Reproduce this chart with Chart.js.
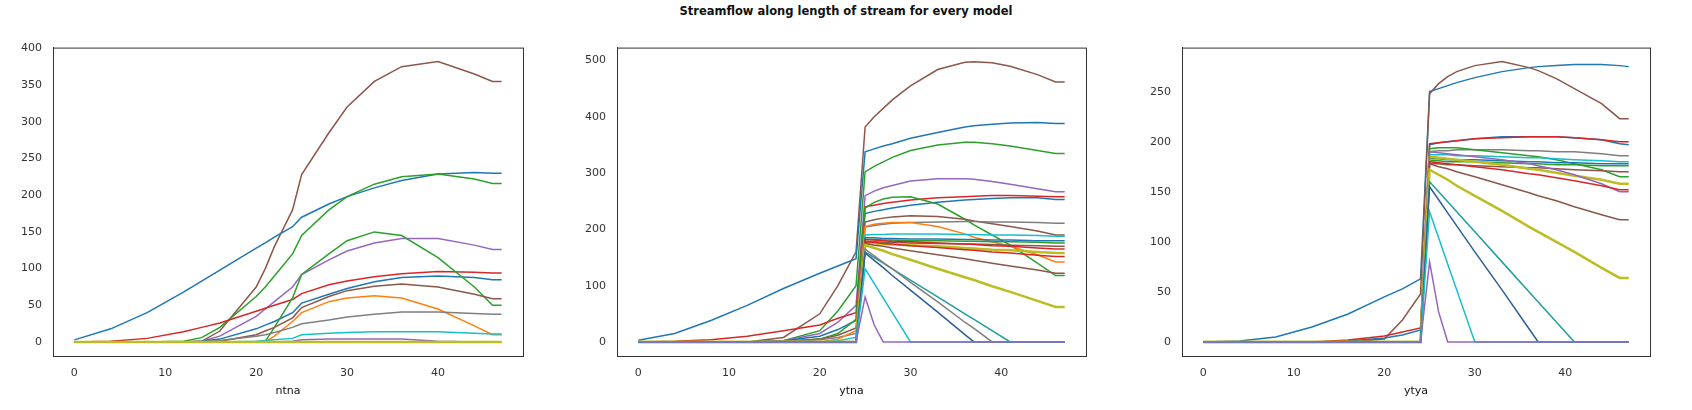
<!DOCTYPE html>
<html>
<head>
<meta charset="utf-8">
<script src="https://cdn.jsdelivr.net/npm/chart.js@4/dist/chart.umd.min.js"></script>
<style>
	body { margin: 0; width: 1692px; height: 410px; background: #fff; font-family: "DejaVu Sans", sans-serif; overflow: hidden; }
	#title { position: absolute; top: 4px; left: 0; width: 1692px; text-align: center; font-size: 11.5px; font-weight: bold; color: #111; }
	.box { position: absolute; top: 38px; height: 360px; }
</style>
</head>
<body>
<div id="title">Streamflow along length of stream for every model</div>
<div class="box" style="left:5px;width:520px"><canvas id="c1"></canvas></div>
<div class="box" style="left:569px;width:519px"><canvas id="c2"></canvas></div>
<div class="box" style="left:1134px;width:518px"><canvas id="c3"></canvas></div>
<script>
const C = {
	blue: '#1f77b4', orange: '#ff7f0e', green: '#2ca02c', red: '#d62728', purple: '#9467bd',
	brown: '#8c564b', gray: '#7f7f7f', olive: '#bcbd22', cyan: '#17becf', navy: '#2f5d95', teal: '#1f9e9e'
};

// ---- ntna ----
const x1 = [0, 4, 8, 12, 14, 16, 20, 21, 22, 24, 25, 28, 30, 33, 36, 40, 44, 46, 47];
const ntna = [
	['olive', [0,0,0,0,0,0,0,0,0,0,0,0,0,0,0,0,0,0,0], 2.5],
	['purple', [0,0,0,0,0,0,0,0,0,1,3,4,4,4,4,1,0,0,0]],
	['cyan', [0,0,0,0,0,0,1,2,3,5,10,12,13,14,14,14,12,11,11]],
	['gray', [0,0,0,0,0,2,8,10,13,20,25,30,34,38,41,41,39,38,38]],
	['orange', [0,0,0,0,0,0,0,0,8,28,40,55,60,63,60,45,22,10,10]],
	['brown', [0,0,0,0,0,1,10,15,20,33,47,62,70,76,79,75,65,59,59]],
	['green', [0,0,0,0,0,0,0,1,20,60,92,120,138,150,145,115,75,50,50]],
	['blue', [0,0,0,0,1,4,18,23,28,40,53,65,73,82,88,90,88,85,85]],
	['red', [0,1,5,14,20,26,42,46,50,58,66,78,83,89,93,96,95,94,94]],
	['purple', [0,0,0,0,1,8,35,45,55,75,92,112,124,135,141,141,132,126,126]],
	['green', [0,0,0,1,6,20,62,75,90,120,145,180,198,215,225,229,222,216,216]],
	['blue', [3,18,40,68,83,98,128,135,143,157,170,188,198,210,220,229,231,230,230]],
	['brown', [0,0,0,0,1,15,75,100,130,180,228,285,320,355,375,382,365,355,355]]
];

// ---- ytna ----
const x2 = [0, 4, 8, 12, 16, 20, 22, 24, 25, 26, 27, 28, 30, 33, 36, 37, 39, 41, 44, 46, 47];
const z8 = [0,0,0,0,0,0,0,0];
const ytna = [
	['purple', z8.concat([80,30,0,0,0,0,0,0,0,0,0,0,0])],
	['cyan', z8.concat([130,104,78,52,0,0,0,0,0,0,0,0,0])],
	['navy', z8.concat([158,145,132,118,92,53,13,0,0,0,0,0,0])],
	['gray', z8.concat([165,153,141,130,106,71,35,24,0,0,0,0,0])],
	['teal', z8.concat([160,150,140,130,110,80,50,40,20,0,0,0,0])],
	['olive', z8.concat([172,167,162,156,146,130,115,110,99,89,73,62,62]), 2.5],
	['brown', z8.concat([175,172,170,167,162,155,148,145,140,135,128,122,122])],
	['red', z8.concat([178,177,175,174,171,168,164,163,160,158,154,152,152])],
	['red', z8.concat([182,181,180,179,178,176,174,173,171,170,167,165,165])],
	['olive', z8.concat([176,175,174,173,172,170,167,166,164,163,160,158,158]), 2.5],
	['brown', z8.concat([178,178,177,177,176,175,174,174,173,172,171,170,170])],
	['green', z8.concat([182,182,181,181,180,180,179,179,178,178,177,176,176])],
	['blue', z8.concat([185,185,184,184,183,183,182,182,181,181,180,180,180])],
	['cyan', [0,0,0,0,0,0,2,8,190,191,191,192,192,192,191,191,190,190,189,188,188]],
	['orange', [0,0,0,0,0,0,5,20,205,209,211,212,212,205,192,186,178,170,155,142,142]],
	['gray', [0,0,0,0,1,4,8,15,204,207,209,211,212,213,214,214,213,213,212,211,211]],
	['brown', [0,0,0,0,1,5,12,25,213,217,220,222,224,223,218,215,210,205,197,190,190]],
	['green', [0,0,0,0,0,5,15,40,238,248,254,257,258,245,218,208,190,172,140,118,118]],
	['blue', [0,0,0,0,2,10,22,38,228,232,235,238,243,248,252,253,255,256,256,253,253]],
	['red', [0,1,4,10,20,30,42,52,240,243,246,248,252,256,258,259,260,260,259,258,258]],
	['purple', [0,0,0,0,2,15,35,65,260,268,274,278,286,290,290,289,285,280,272,267,267]],
	['green', [0,0,0,0,2,20,55,100,302,312,320,328,340,350,355,355,352,348,340,335,335]],
	['blue', [3,15,38,65,95,122,135,148,338,343,348,352,362,372,382,384,387,389,390,388,388]],
	['brown', [0,0,0,0,8,50,100,160,382,400,415,430,455,484,497,498,496,490,475,462,462]]
];

// ---- ytya ----
const x3 = x2;
const ytya = [
	['purple', z8.concat([80,30,0,0,0,0,0,0,0,0,0,0,0])],
	['cyan', z8.concat([130,104,78,52,0,0,0,0,0,0,0,0,0])],
	['navy', z8.concat([155,142,129,116,90,52,13,0,0,0,0,0,0])],
	['teal', z8.concat([160,150,140,130,110,80,50,40,20,0,0,0,0])],
	['olive', z8.concat([172,167,162,156,146,131,115,110,100,90,74,64,64]), 2.5],
	['brown', z8.concat([178,175,173,170,165,157,149,146,141,135,127,122,122])],
	['red', z8.concat([180,179,178,177,175,172,168,167,164,161,156,152,152])],
	['purple', z8.concat([190,189,188,187,185,182,178,176,172,167,158,150,150])],
	['olive', z8.concat([185,184,183,182,180,177,173,172,169,166,162,158,158]), 2.5],
	['brown', z8.concat([178,178,177,177,176,175,174,174,173,172,171,170,170])],
	['green', z8.concat([181,181,180,180,180,179,178,178,177,177,176,176,176])],
	['blue', z8.concat([183,183,182,182,182,181,180,180,179,179,178,178,178])],
	['cyan', z8.concat([187,187,187,186,186,185,184,184,183,182,181,180,180])],
	['green', z8.concat([193,194,194,194,192,189,186,185,182,178,172,165,165])],
	['gray', z8.concat([190,191,191,192,192,192,191,191,190,190,188,186,186])],
	['red', [0,0,0,0,2,6,10,14,198,199,200,201,203,204,205,205,205,204,202,200,200]],
	['blue', [0,0,0,0,1,4,7,12,197,199,200,201,203,205,205,205,205,204,202,198,197]],
	['brown', [0,0,0,0,0,3,22,48,248,258,265,270,276,280,274,271,263,253,238,223,223]],
	['blue', [0,1,5,15,28,45,53,63,250,253,256,259,264,270,274,275,276,277,277,276,275]]
];

function makeDatasets(xs, series) {
	return series.map(([col, ys, w]) => ({
		data: ys.map((y, i) => ({ x: xs[i], y: y })),
		borderColor: C[col],
		borderWidth: w || 1.5,
		pointRadius: 0,
		tension: 0
	}));
}

function drawPanel(id, xs, series, label, yMin, yMax, yStep) {
	const tickFont = { family: 'DejaVu Sans', size: 11 };
	new Chart(document.getElementById(id), {
		type: 'line',
		data: { datasets: makeDatasets(xs, series) },
		options: {
			responsive: true,
			maintainAspectRatio: false,
			animation: false,
			layout: { padding: { top: 5, right: 2, left: 0, bottom: 0 } },
			plugins: { legend: { display: false }, tooltip: { enabled: false } },
			scales: {
				x: {
					type: 'linear', min: -2.35, max: 49.35,
					afterBuildTicks: s => { s.ticks = [0, 10, 20, 30, 40].map(v => ({ value: v })); },
					afterFit: s => { s.height = 42; },
					grid: { display: false, drawTicks: true },
					border: { color: '#333' },
					ticks: { color: '#333', font: tickFont, maxRotation: 0 },
					title: { display: true, text: label, color: '#111', font: tickFont, padding: 0 }
				},
				y: {
					min: yMin, max: yMax,
					afterBuildTicks: s => {
						const t = [];
						for (let v = 0; v <= yMax; v += yStep) t.push({ value: v });
						s.ticks = t;
					},
					afterFit: s => { s.width = 48; },
					grid: { display: false },
					border: { color: '#333' },
					ticks: { color: '#333', font: tickFont }
				}
			}
		},
		plugins: [{
			id: 'frame',
			afterDraw(chart) {
				const a = chart.chartArea, ctx = chart.ctx;
				ctx.save();
				ctx.strokeStyle = '#333';
				ctx.lineWidth = 1;
				ctx.strokeRect(a.left + 0.5, a.top + 0.5, a.right - a.left, a.bottom - a.top);
				ctx.restore();
			}
		}]
	});
}

drawPanel('c1', x1, ntna, 'ntna', -19, 401, 50);
drawPanel('c2', x2, ytna, 'ytna', -25, 523, 100);
drawPanel('c3', x3, ytya, 'ytya', -14, 294, 50);
</script>
</body>
</html>
